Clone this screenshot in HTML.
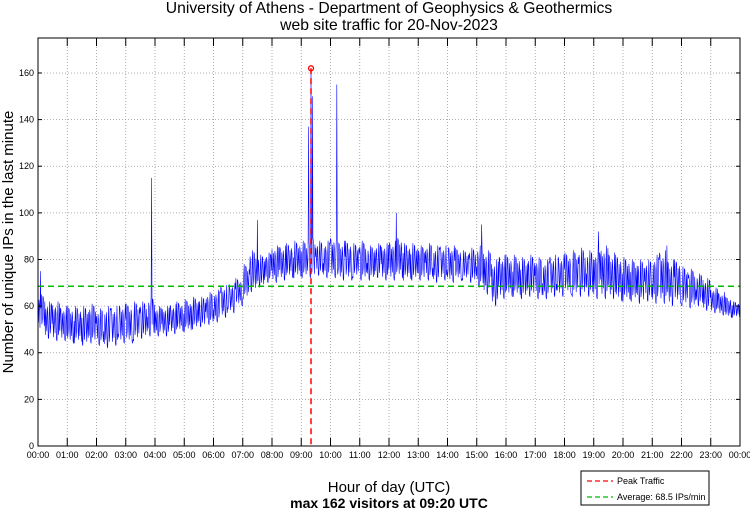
<!DOCTYPE html>
<html><head><meta charset="utf-8"><style>
body{margin:0;background:#fff;font-family:"Liberation Sans",sans-serif}
svg{display:block}
</style></head><body>
<svg id="c" width="750" height="511" xmlns="http://www.w3.org/2000/svg" font-family="Liberation Sans, sans-serif">
<text x="389" y="13" font-size="15.7" text-anchor="middle">University of Athens - Department of Geophysics &amp; Geothermics</text>
<text x="389" y="30" font-size="15.7" text-anchor="middle">web site traffic for 20-Nov-2023</text>
<g id="grid"></g>
<g id="series"></g>
<g id="axes"></g>
<text x="389" y="492" font-size="15" text-anchor="middle">Hour of day (UTC)</text>
<text x="389" y="508" font-size="14" font-weight="bold" text-anchor="middle">max 162 visitors at 09:20 UTC</text>
<text transform="translate(13,242) rotate(-90)" font-size="15" text-anchor="middle">Number of unique IPs in the last minute</text>
<g>
<rect x="581" y="471" width="128" height="34" fill="#fff" stroke="#000" stroke-width="1"/>
<line x1="587" y1="481" x2="613" y2="481" stroke="#f00" stroke-dasharray="5,3" stroke-width="1.3"/>
<text x="617" y="484" font-size="9">Peak Traffic</text>
<line x1="587" y1="497" x2="613" y2="497" stroke="#0b0" stroke-dasharray="5,3" stroke-width="1.3"/>
<text x="617" y="500" font-size="9">Average: 68.5 IPs/min</text>
</g>
</svg>
<script>
const yTicks=[0,20,40,60,80,100,120,140,160];
const xTickLabels=["00:00","01:00","02:00","03:00","04:00","05:00","06:00","07:00","08:00","09:00","10:00","11:00","12:00","13:00","14:00","15:00","16:00","17:00","18:00","19:00","20:00","21:00","22:00","23:00","00:00"];
const binLow=[50,46,45,45,44,44,43,44,43,42,43,44,44,45,46,47,47,47,48,49,49,50,51,52,53,55,57,60,63,66,68,70,70,71,72,72,72,72,73,72,72,71,71,72,71,71,72,71,71,72,71,71,71,71,70,71,70,71,71,70,68,65,60,63,64,64,63,64,63,63,64,64,65,64,64,64,63,63,63,62,62,62,61,62,61,61,60,61,60,59,60,58,57,56,55,55];
const binHigh=[65,62,62,60,60,60,60,61,59,60,60,61,61,62,62,64,60,60,61,62,63,64,64,66,67,69,70,72,78,84,82,83,86,86,87,88,88,90,88,88,90,88,88,87,88,86,87,87,88,90,87,87,86,87,86,86,86,85,84,85,86,84,80,82,82,82,81,82,81,80,82,82,83,84,85,84,84,86,83,82,81,80,80,80,82,84,80,80,77,76,74,72,68,66,64,62];
const spikeMinutes=[5,233,450,555,560,563,613,735,910,1150,1290];
const spikeValues=[75,115,97,137,162,150,155,100,95,92,86];
const peakMinute=560, peakValue=162, averageValue=68.5;
const L=38,R=740,T=38,B=446,YMAX=175;
const xs=m=>L+(R-L)*m/1440, ys=v=>B-(B-T)*v/YMAX;
const NS="http://www.w3.org/2000/svg";
function mk(t,a,p){const e=document.createElementNS(NS,t);for(const k in a)e.setAttribute(k,a[k]);p.appendChild(e);return e;}
const grid=document.getElementById('grid'),axes=document.getElementById('axes'),ser=document.getElementById('series');
mk('rect',{x:L,y:T,width:R-L,height:B-T,fill:'#fff'},grid);
yTicks.forEach(v=>{
 const y=ys(v);
 if(v>0){const g=mk('line',{x1:L,x2:R,y1:y,y2:y,stroke:'#999','stroke-dasharray':'1,2','stroke-width':0.8},grid);
 
 }
 mk('line',{x1:L,x2:L+4,y1:y,y2:y,stroke:'#000'},axes);
 mk('line',{x1:R,x2:R-4,y1:y,y2:y,stroke:'#000'},axes);
 const t=mk('text',{x:L-4,y:y+3,'font-size':9,'text-anchor':'end'},axes);t.textContent=v;
 
 
});
xTickLabels.forEach((lab,i)=>{
 const x=xs(i*60);
 if(i>0&&i<24){const g=mk('line',{x1:x,x2:x,y1:T,y2:B,stroke:'#999','stroke-dasharray':'1,2','stroke-width':0.8},grid);
 
 }
 mk('line',{x1:x,x2:x,y1:B,y2:B-8,stroke:'#000'},axes);
 mk('line',{x1:x,x2:x,y1:T,y2:T+8,stroke:'#000'},axes);
 const t=mk('text',{x:x,y:B+12,'font-size':9,'text-anchor':'middle'},axes);t.textContent=lab;
 
 
});
mk('rect',{x:L,y:T,width:R-L,height:B-T,fill:'none',stroke:'#000','stroke-width':1},axes);
const pat=[0.5,0.1,0.9,0.3,1,0,0.7,0.2,0.8,0.4,0.95,0.15,0.6,0.05,0.85];
let pts=[];
for(let m=0;m<1440;m++){
 const b=Math.floor(m/15);let v=binLow[b]+(binHigh[b]-binLow[b])*pat[(m*7+b)%15];
 const si=spikeMinutes.indexOf(m);if(si>=0)v=spikeValues[si];
 pts.push(xs(m).toFixed(1)+','+ys(v).toFixed(1));
}
const pl=mk('polyline',{points:pts.join(' '),fill:'none',stroke:'#00f','stroke-width':0.6},ser);


const av=mk('line',{x1:L,x2:R,y1:ys(averageValue),y2:ys(averageValue),stroke:'#0b0','stroke-dasharray':'6,4','stroke-width':1.5},ser);


const pk=mk('line',{x1:xs(peakMinute),x2:xs(peakMinute),y1:ys(peakValue),y2:B,stroke:'#f00','stroke-dasharray':'6,4','stroke-width':1.5},ser);


const pc=mk('circle',{cx:xs(peakMinute),cy:ys(peakValue),r:2.5,fill:'none',stroke:'#f00','stroke-width':1.3},ser);


</script>
</body></html>
